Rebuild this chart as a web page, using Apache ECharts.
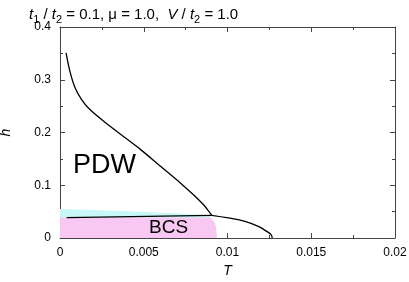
<!DOCTYPE html>
<html><head><meta charset="utf-8">
<script src="https://cdn.jsdelivr.net/npm/echarts@6/dist/echarts.min.js"></script>
<style>html,body{margin:0;padding:0;background:#fff}#c{width:409px;height:282px}</style>
</head><body><div id="c"></div>
<script>
// Upper PDW boundary [T, h]
const pdwUpper = [[0.00036,0.351],[0.0006,0.315],[0.0009,0.285],[0.0013,0.262],[0.0018,0.243],[0.0027,0.219],[0.0039,0.19],[0.0048,0.168],[0.006,0.136],[0.0072,0.104],[0.008,0.081],[0.0086,0.062],[0.0089,0.05],[0.00906,0.043]];
// BCS horizontal boundary
const bcsLine = [[0.0004,0.0386],[0.00906,0.043]];
// Lower-right boundary
const lowerRight = [[0.00906,0.043],[0.01005,0.038],[0.01104,0.0315],[0.01184,0.022],[0.01234,0.0125],[0.0126,0.0063],[0.01267,0]];
// Cyan shaded region top edge
const cyanTop = [[0,0.055],[0.003,0.052],[0.006,0.048],[0.0085,0.044],[0.0090,0.041]];
// Pink shaded region edge
const pinkTop = [[0,0.039],[0.0088,0.039],[0.0091,0.035],[0.0093,0.022],[0.00935,0.01],[0.00937,0]];
const xTicks = [0,0.005,0.01,0.015,0.02];
const yTicks = [0,0.1,0.2,0.3,0.4];

const chart = echarts.init(document.getElementById('c'));
const F = '"Liberation Sans", Arial, sans-serif';
const axisCommon = {
  axisLine:{show:true,onZero:false,lineStyle:{color:'#444',width:1}},
  axisTick:{show:true,inside:true,length:5,lineStyle:{color:'#444'}},
  minorTick:{show:true,splitNumber:2,length:3,lineStyle:{color:'#444'}},
  splitLine:{show:false}
};
chart.setOption({
  animation:false,
  textStyle:{fontFamily:F},
  title:{
    left:24, top:1,
    text:'{i|t}{s|1}{n| / }{i|t}{s|2}{n| = 0.1, μ = 1.0,  }{i|V}{n| / }{i|t}{s|2}{n| = 1.0}',
    textStyle:{fontWeight:'normal',rich:{
      n:{fontSize:15,fontFamily:F,fontWeight:'normal',color:'#000',lineHeight:22,verticalAlign:'top',padding:[1,0,0,0]},
      i:{fontSize:15,fontFamily:F,fontWeight:'normal',fontStyle:'italic',color:'#000',lineHeight:22,verticalAlign:'top',padding:[1,0,0,0]},
      s:{fontSize:11,fontFamily:F,fontWeight:'normal',color:'#000',lineHeight:22,verticalAlign:'top',padding:[8,0,0,0]}
    }}
  },
  grid:{left:60,right:14,top:27,bottom:44,containLabel:false,outerBoundsMode:'none'},
  xAxis:[
    Object.assign({type:'value',min:0,max:0.02,interval:0.005,position:'bottom',
      name:'T',nameLocation:'middle',nameGap:24,
      nameTextStyle:{fontStyle:'italic',fontSize:14,color:'#000',fontFamily:F},
      axisLabel:{color:'#000',fontSize:12,fontFamily:F,margin:9,formatter:v=>xTicks.includes(Math.round(v*1000)/1000)?String(Math.round(v*1000)/1000):''}},axisCommon),
    Object.assign({type:'value',min:0,max:0.02,interval:0.005,position:'top',axisLabel:{show:false}},axisCommon)
  ],
  yAxis:[
    Object.assign({type:'value',min:0,max:0.4,interval:0.1,position:'left',
      name:'h',nameLocation:'middle',nameGap:47,nameRotate:90,
      nameTextStyle:{fontStyle:'italic',fontSize:14,color:'#000',fontFamily:F},
      axisLabel:{color:'#000',fontSize:12,fontFamily:F,margin:9,formatter:v=>{const r=Math.round(v*10)/10;return yTicks.includes(r)?String(r):'';}}},axisCommon),
    Object.assign({type:'value',min:0,max:0.4,interval:0.1,position:'right',axisLabel:{show:false}},axisCommon)
  ],
  series:[
    {type:'line',data:cyanTop,symbol:'none',smooth:true,lineStyle:{width:0},areaStyle:{color:'#c8f7f7',opacity:1},z:1},
    {type:'line',data:pinkTop,symbol:'none',smooth:true,lineStyle:{width:0},areaStyle:{color:'#f8c8f2',opacity:1},z:2},
    {type:'line',data:pdwUpper,symbol:'none',smooth:0.3,lineStyle:{color:'#000',width:1.3},z:5},
    {type:'line',data:bcsLine,symbol:'none',lineStyle:{color:'#000',width:1.3},z:5},
    {type:'line',data:lowerRight,symbol:'none',smooth:0.4,lineStyle:{color:'#000',width:1.3},z:5}
  ],
  graphic:[
    {type:'text',left:73,top:152,style:{text:'PDW',fontSize:27,fontFamily:F,fill:'#000'},z:10},
    {type:'text',left:149,top:218,style:{text:'BCS',fontSize:19,fontFamily:F,fill:'#000'},z:10}
  ]
});
</script></body></html>
